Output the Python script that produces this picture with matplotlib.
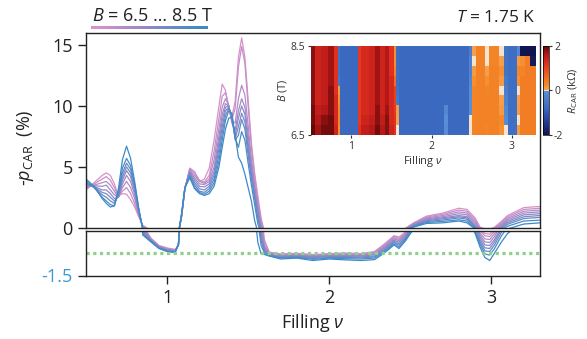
import numpy as np
import matplotlib.pyplot as plt
from matplotlib.colors import LinearSegmentedColormap

plt.rcParams['font.family'] = ['Open Sans', 'DejaVu Sans']
plt.rcParams['mathtext.fontset'] = 'custom'
plt.rcParams['mathtext.rm'] = 'Open Sans'
plt.rcParams['mathtext.it'] = 'Open Sans:italic'
plt.rcParams['mathtext.bf'] = 'Open Sans:bold'
plt.rcParams['axes.unicode_minus'] = False

# filling values where the curves were read
nu = [0.50, 0.55, 0.60, 0.625, 0.65, 0.675, 0.70, 0.725, 0.75, 0.775,
      0.80, 0.825, 0.85, 0.90, 0.95, 1.00, 1.05, 1.07, 1.09, 1.11,
      1.14, 1.17, 1.20, 1.23, 1.26, 1.29, 1.32, 1.34, 1.36, 1.38,
      1.40, 1.42, 1.44, 1.46, 1.48, 1.50, 1.52, 1.54, 1.56, 1.58,
      1.60, 1.63, 1.70, 1.80, 1.90, 2.00, 2.10, 2.20, 2.28, 2.34,
      2.40, 2.43, 2.47, 2.52, 2.60, 2.70, 2.80, 2.85, 2.90, 2.93,
      2.96, 2.99, 3.02, 3.06, 3.10, 3.20, 3.30]

B_vals = [6.5, 6.75, 7.0, 7.25, 7.5, 7.75, 8.0, 8.25, 8.5]

# -p_CAR (%) for each field
p_650 = [3.1, 3.7, 4.3, 4.5, 4.3, 3.6, 2.6, 2.8, 2.75, 2.3,
         1.7, 0.9, 0.2, -0.25, -0.5, -0.58, -0.63, -0.5, 0.9, 3.2,
         4.9, 4.6, 3.8, 4.0, 4.9, 7.2, 10.0, 11.8, 11.3, 9.9,
         9.1, 10.4, 14.0, 15.6, 14.0, 10.5, 7.0, 4.5, 2.6, 0.8,
         -0.3, -0.72, -0.78, -0.76, -0.8, -0.77, -0.75, -0.77, -0.7, -0.45,
         -0.17, -0.22, -0.05, 0.4, 0.95, 1.2, 1.6, 1.5, 0.8, 0.05,
         -0.1, -0.12, 0.05, 0.5, 1.0, 1.65, 1.75]
p_675 = [3.2, 3.6, 4.0, 4.2, 3.9, 3.3, 2.6, 3.0, 3.3, 2.8,
         2.0, 1.0, 0.15, -0.27, -0.51, -0.6, -0.65, -0.5, 0.95, 3.2,
         4.85, 4.5, 3.9, 3.75, 4.3, 6.3, 9.0, 10.8, 11.1, 10.0,
         8.9, 9.8, 13.2, 14.9, 13.5, 10.0, 6.6, 4.2, 2.3, 0.5,
         -0.4, -0.74, -0.8, -0.78, -0.82, -0.79, -0.77, -0.79, -0.72, -0.48,
         -0.2, -0.26, -0.08, 0.35, 0.88, 1.1, 1.45, 1.35, 0.65, 0.0,
         -0.18, -0.2, -0.02, 0.4, 0.88, 1.5, 1.6]
p_700 = [3.3, 3.5, 3.7, 3.8, 3.5, 3.0, 2.5, 3.3, 3.8, 3.3,
         2.4, 1.1, 0.1, -0.29, -0.53, -0.62, -0.66, -0.49, 1.0, 3.2,
         4.75, 4.3, 3.8, 3.65, 4.0, 5.6, 8.2, 9.9, 10.6, 10.1,
         8.7, 8.6, 10.6, 11.7, 10.9, 8.4, 5.7, 3.6, 1.9, 0.3,
         -0.5, -0.76, -0.82, -0.8, -0.84, -0.81, -0.8, -0.81, -0.75, -0.52,
         -0.24, -0.3, -0.12, 0.3, 0.8, 1.0, 1.3, 1.2, 0.5, -0.08,
         -0.28, -0.3, -0.1, 0.3, 0.76, 1.35, 1.45]
p_725 = [3.4, 3.45, 3.4, 3.5, 3.1, 2.7, 2.5, 3.6, 4.3, 3.8,
         2.7, 1.2, 0.05, -0.3, -0.54, -0.63, -0.68, -0.48, 1.0, 3.25,
         4.65, 4.1, 3.6, 3.55, 3.8, 5.0, 7.5, 9.3, 10.2, 10.0,
         8.6, 8.0, 9.6, 10.6, 9.9, 7.6, 5.2, 3.3, 1.6, 0.1,
         -0.55, -0.78, -0.84, -0.82, -0.86, -0.83, -0.82, -0.83, -0.78, -0.55,
         -0.28, -0.34, -0.15, 0.26, 0.73, 0.9, 1.15, 1.05, 0.35, -0.15,
         -0.38, -0.4, -0.2, 0.2, 0.64, 1.2, 1.3]
p_750 = [3.5, 3.4, 3.1, 3.1, 2.8, 2.4, 2.5, 3.9, 4.7, 4.2,
         3.0, 1.3, 0.0, -0.32, -0.55, -0.65, -0.69, -0.48, 1.05, 3.25,
         4.55, 3.9, 3.4, 3.35, 3.6, 4.6, 7.0, 8.8, 9.9, 10.0,
         8.8, 7.6, 9.0, 10.0, 9.3, 7.0, 4.8, 3.0, 1.3, -0.1,
         -0.6, -0.8, -0.86, -0.84, -0.88, -0.85, -0.84, -0.85, -0.81, -0.59,
         -0.32, -0.39, -0.19, 0.22, 0.65, 0.82, 1.0, 0.9, 0.2, -0.22,
         -0.48, -0.5, -0.3, 0.1, 0.52, 1.05, 1.15]
p_775 = [3.6, 3.35, 2.9, 2.8, 2.5, 2.2, 2.6, 4.2, 5.0, 4.5,
         3.2, 1.4, -0.05, -0.33, -0.56, -0.66, -0.7, -0.47, 1.1, 3.25,
         4.45, 3.7, 3.2, 3.1, 3.4, 4.3, 6.5, 8.3, 9.6, 9.9,
         9.0, 7.3, 8.3, 9.4, 8.7, 6.5, 4.4, 2.7, 1.0, -0.2,
         -0.65, -0.81, -0.88, -0.86, -0.9, -0.87, -0.87, -0.88, -0.85, -0.63,
         -0.36, -0.44, -0.23, 0.18, 0.58, 0.73, 0.9, 0.8, 0.1, -0.3,
         -0.58, -0.6, -0.38, 0.02, 0.4, 0.9, 1.0]
p_800 = [3.7, 3.3, 2.7, 2.5, 2.2, 2.0, 2.7, 4.5, 5.3, 4.8,
         3.4, 1.5, -0.1, -0.35, -0.58, -0.68, -0.71, -0.46, 1.1, 3.3,
         4.35, 3.5, 3.0, 2.9, 3.2, 4.0, 6.0, 7.8, 9.2, 9.8,
         9.3, 7.2, 7.6, 8.9, 8.1, 6.0, 4.0, 2.4, 0.7, -0.35,
         -0.7, -0.83, -0.9, -0.88, -0.93, -0.9, -0.9, -0.91, -0.88, -0.67,
         -0.4, -0.49, -0.27, 0.14, 0.5, 0.63, 0.8, 0.7, 0.0, -0.38,
         -0.68, -0.7, -0.48, -0.08, 0.28, 0.75, 0.85]
p_825 = [3.85, 3.3, 2.5, 2.2, 1.9, 1.8, 2.9, 4.9, 5.7, 5.1,
         3.6, 1.55, -0.12, -0.36, -0.59, -0.69, -0.72, -0.46, 1.15, 3.3,
         4.2, 3.3, 2.9, 2.75, 3.0, 3.7, 5.5, 7.2, 8.8, 9.6,
         9.4, 7.4, 6.6, 7.9, 7.2, 5.3, 3.5, 1.9, 0.3, -0.5,
         -0.75, -0.84, -0.92, -0.9, -0.96, -0.92, -0.94, -0.95, -0.92, -0.71,
         -0.44, -0.55, -0.31, 0.1, 0.43, 0.52, 0.65, 0.55, -0.05, -0.46,
         -0.78, -0.82, -0.6, -0.2, 0.12, 0.55, 0.62]
p_850 = [4.0, 3.4, 2.4, 2.0, 1.7, 1.8, 3.2, 5.6, 6.7, 5.7,
         3.8, 1.6, -0.15, -0.38, -0.6, -0.7, -0.74, -0.45, 1.2, 3.3,
         4.1, 3.2, 2.8, 2.65, 2.8, 3.4, 5.0, 6.6, 8.1, 9.0,
         9.1, 7.6, 5.8, 5.3, 4.4, 3.3, 2.2, 0.6, -0.4, -0.78,
         -0.8, -0.85, -0.95, -0.92, -1.0, -0.95, -0.98, -1.0, -0.97, -0.75,
         -0.48, -0.6, -0.35, 0.05, 0.35, 0.4, 0.55, 0.4, -0.1, -0.55,
         -0.9, -1.0, -0.75, -0.4, -0.1, 0.3, 0.4]
curves = [p_650, p_675, p_700, p_725, p_750, p_775, p_800, p_825, p_850]

ref_level = -0.75

# inset map R_CAR (kOhm): column edges in filling, one row per field
map_nu_edges = [0.50, 0.55, 0.63, 0.71, 0.78, 0.83, 0.86, 1.08, 1.12, 1.22,
                1.30, 1.36, 1.42, 1.47, 1.53, 1.56, 1.59, 2.15, 2.20, 2.46,
                2.50, 2.55, 2.67, 2.71, 2.84, 2.90, 2.95, 3.06, 3.10, 3.16,
                3.22, 3.30]
r_650 = [2.0, 1.7, 1.9, 1.9, 1.4, 0.2, -0.8, 1.2, 1.5, 1.6, 1.9, 1.6, 1.8, 1.4, 1.2, 0.0,
         -0.8, -0.1, -0.8, 0.0, 0.3, 0.35, 0.3, 0.35, 0.2, 0.0, -0.7, 0.1, 0.4, 0.4, 0.4]
r_675 = [1.9, 1.6, 1.8, 1.9, 1.3, 0.3, -0.8, 1.1, 1.4, 1.5, 1.8, 1.5, 1.8, 1.3, 1.2, 0.05,
         -0.8, -0.05, -0.8, 0.0, 0.3, 0.35, 0.35, 0.35, 0.25, -0.1, -0.7, 0.0, 0.4, 0.4, 0.4]
r_700 = [1.9, 1.5, 1.6, 1.8, 1.3, 0.3, -0.8, 1.1, 1.3, 1.4, 1.8, 1.4, 1.7, 1.3, 1.1, 0.1,
         -0.8, -0.2, -0.8, -0.05, 0.3, 0.35, 0.35, 0.35, 0.1, -0.2, -0.7, 0.1, 0.4, 0.4, 0.4]
r_725 = [1.8, 1.4, 1.5, 1.8, 1.3, 0.2, -0.8, 1.1, 1.3, 1.4, 1.7, 1.4, 1.6, 1.3, 1.0, -0.5,
         -0.8, -0.8, -0.8, -0.05, 0.3, 0.35, 0.35, 0.35, 0.05, -0.3, -0.7, 0.05, 0.4, 0.4, 0.4]
r_750 = [1.8, 1.4, 1.5, 1.8, 1.2, 0.1, -0.8, 1.1, 1.3, 1.4, 1.7, 1.4, 1.6, 1.3, 1.0, -0.6,
         -0.8, -0.8, -0.8, -0.1, 0.3, 0.35, 0.3, 0.35, 0.0, -0.4, -0.7, 0.0, 0.4, 0.4, 0.4]
r_775 = [1.8, 1.4, 1.5, 1.7, 1.2, -0.5, -0.8, 1.1, 1.3, 1.4, 1.7, 1.4, 1.6, 1.3, 0.6, -0.7,
         -0.8, -0.8, -0.8, -0.2, 0.2, 0.35, 0.2, 0.35, 0.1, -0.5, -0.7, 0.2, 0.4, 0.4, 0.4]
r_800 = [1.8, 1.4, 1.5, 1.7, 1.2, -0.6, -0.8, 1.1, 1.3, 1.4, 1.7, 1.4, 1.6, 1.2, 0.3, -0.7,
         -0.8, -0.8, -0.8, -0.3, 0.1, 0.35, 0.05, 0.35, 0.2, -0.6, -0.7, 0.3, 0.3, 0.4, 0.4]
r_825 = [1.8, 1.4, 1.5, 1.7, 1.2, -0.6, -0.8, 1.1, 1.3, 1.4, 1.7, 1.4, 1.6, 1.2, 0.2, -0.7,
         -0.8, -0.8, -0.8, -0.3, 0.0, 0.35, 0.0, 0.3, 0.05, -0.6, -0.7, 0.1, 0.2, 0.4, -1.9]
r_850 = [1.8, 1.4, 1.5, 1.7, 1.2, -0.6, -0.8, 1.1, 1.3, 1.4, 1.7, 1.4, 1.6, 1.2, 0.2, -0.7,
         -0.8, -0.8, -0.8, -0.4, 0.05, 0.35, 0.0, 0.3, 0.0, -0.6, -0.7, -0.2, -2.0, -2.0, -2.0]
rcar = np.array([r_650, r_675, r_700, r_725, r_750, r_775, r_800, r_825, r_850])

line_cmap = LinearSegmentedColormap.from_list('bfield', ['#d891c9', '#9088c6', '#3a8bc8'])
rcar_cmap = LinearSegmentedColormap.from_list('rcar', [
    (0.0, '#121450'), (0.2, '#2a4aa8'), (0.3, '#3a6abf'), (0.49, '#5a8fd6'),
    (0.5, '#f4f2ee'), (0.51, '#f7a050'), (0.56, '#f58a28'), (0.64, '#f07020'),
    (0.8, '#e03020'), (0.9, '#b81818'), (1.0, '#600808')])

fig = plt.figure(figsize=(5.87, 3.39), dpi=100)
W, H = 587, 339
ax_top = fig.add_axes([86 / W, 1 - 227.7 / H, 454 / W, 194.7 / H])
ax_bot = fig.add_axes([86 / W, 1 - 275.5 / H, 454 / W, 45 / H])

for k, p in enumerate(curves):
    c = line_cmap(k / (len(curves) - 1))
    ax_top.plot(nu, p, color=c, lw=0.9)
    ax_bot.plot(nu, p, color=c, lw=0.9)

ax_bot.axhline(ref_level, color='#8fd18a', lw=2.3, ls=(0, (1, 1.1)))

for ax in (ax_top, ax_bot):
    ax.set_xlim(0.5, 3.3)
    for s in ax.spines.values():
        s.set_color('#222222')
        s.set_linewidth(1.0)
    ax.tick_params(labelsize=13, colors='#222222', length=6, width=1)

ax_top.set_ylim(0, 16)
ax_top.set_yticks([0, 5, 10, 15])
ax_top.tick_params(bottom=False, labelbottom=False)

ax_bot.set_ylim(-1.5, 0)
ax_bot.set_yticks([-1.5])
ax_bot.set_xticks([1, 2, 3])
for lab in ax_bot.get_yticklabels():
    lab.set_color('#3a9ad6')
ax_bot.set_xlabel(r'Filling $\nu$', fontsize=13, color='#222222', labelpad=4)

fig.text(25 / W, 1 - 148 / H, r'-$p_{\rm CAR}$  (%)', rotation=90, fontsize=13,
         ha='center', va='center', color='#222222')

fig.text(92 / W, 1 - 21 / H, r'$B$ = 6.5 … 8.5 T', fontsize=13, color='#222222')
fig.text(535 / W, 1 - 22 / H, r'$T$ = 1.75 K', fontsize=12.5, ha='right', color='#222222')

ax_bar = fig.add_axes([91 / W, 1 - 29 / H, 117 / W, 3.5 / H])
ax_bar.imshow(np.array(B_vals)[None, :], cmap=line_cmap, aspect='auto', interpolation='bilinear')
ax_bar.axis('off')

# inset map
ax_in = fig.add_axes([311 / W, 1 - 135 / H, 225 / W, 89 / H])
B_edges = np.linspace(B_vals[0], B_vals[-1], len(B_vals) + 1)
mesh = ax_in.pcolormesh(map_nu_edges, B_edges, rcar, cmap=rcar_cmap, vmin=-2, vmax=2, shading='flat')
ax_in.set_xlim(0.5, 3.3)
ax_in.set_ylim(6.5, 8.5)
ax_in.set_xticks([1, 2, 3])
ax_in.set_yticks([6.5, 8.5])
ax_in.tick_params(labelsize=7.5, length=2.5, width=0.8, colors='#333333', pad=2)
for s in ax_in.spines.values():
    s.set_visible(False)
ax_in.set_xlabel(r'Filling $\nu$', fontsize=8, labelpad=1, color='#333333')
ax_in.set_ylabel(r'$B$ (T)', fontsize=8, labelpad=1, color='#333333')

cax = fig.add_axes([543 / W, 1 - 135 / H, 5.5 / W, 89 / H])
cb = fig.colorbar(mesh, cax=cax, ticks=[-2, 0, 2])
cb.outline.set_linewidth(0.5)
cax.tick_params(labelsize=7.5, length=2, width=0.8, colors='#333333', pad=2)
cb.set_label(r'$R_{\rm CAR}$ (kΩ)', fontsize=8, labelpad=2, color='#333333')

fig.savefig('out.png', dpi=100)
